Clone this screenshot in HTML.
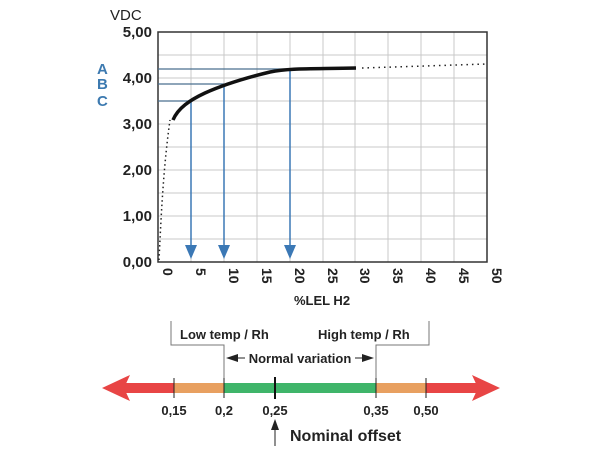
<!DOCTYPE html>
<html><head><meta charset="utf-8"><style>
html,body{margin:0;padding:0;background:#fff;}
svg{display:block;font-family:"Liberation Sans",Arial,sans-serif;}
</style></head><body>
<svg width="600" height="450" viewBox="0 0 600 450" xmlns="http://www.w3.org/2000/svg">
<!-- grid -->
<g stroke="#c8c8c8" stroke-width="1">
<line x1="158" y1="55" x2="487" y2="55"/><line x1="158" y1="78" x2="487" y2="78"/><line x1="158" y1="101" x2="487" y2="101"/>
<line x1="158" y1="124" x2="487" y2="124"/><line x1="158" y1="147" x2="487" y2="147"/><line x1="158" y1="170" x2="487" y2="170"/>
<line x1="158" y1="193" x2="487" y2="193"/><line x1="158" y1="216" x2="487" y2="216"/><line x1="158" y1="239" x2="487" y2="239"/>
<line x1="191" y1="32" x2="191" y2="262"/><line x1="224" y1="32" x2="224" y2="262"/><line x1="257" y1="32" x2="257" y2="262"/>
<line x1="290" y1="32" x2="290" y2="262"/><line x1="323" y1="32" x2="323" y2="262"/><line x1="355" y1="32" x2="355" y2="262"/>
<line x1="388" y1="32" x2="388" y2="262"/><line x1="421" y1="32" x2="421" y2="262"/><line x1="454" y1="32" x2="454" y2="262"/>
</g>
<rect x="158" y="32" width="329" height="230" fill="none" stroke="#333" stroke-width="1.5"/>
<!-- A B C lines -->
<g stroke="#4a6f8f" stroke-width="1.2">
<line x1="158" y1="69" x2="356" y2="69"/>
<line x1="158" y1="84" x2="224" y2="84"/>
<line x1="158" y1="101" x2="191" y2="101"/>
</g>
<g stroke="#3b78b5" stroke-width="1.5">
<line x1="191" y1="101" x2="191" y2="250"/>
<line x1="224" y1="84" x2="224" y2="250"/>
<line x1="290" y1="69" x2="290" y2="250"/>
</g>
<g fill="#3b78b5">
<polygon points="185,245 197,245 191,259"/>
<polygon points="218,245 230,245 224,259"/>
<polygon points="284,245 296,245 290,259"/>
</g>
<!-- curve -->
<path d="M159,260 C161,220 163,170 170,120" fill="none" stroke="#222" stroke-width="1.5" stroke-dasharray="1.5,3"/>
<path d="M173,120 C178,108 190,100 205,93 C225,84 245,78 270,72 C290,68 310,69 356,68" fill="none" stroke="#111" stroke-width="3.5"/>
<path d="M362,68 L487,64" fill="none" stroke="#222" stroke-width="1.5" stroke-dasharray="1.5,4"/>
<!-- y labels -->
<g font-size="15" font-weight="bold" fill="#222" text-anchor="end">
<text x="152" y="37">5,00</text><text x="152" y="83">4,00</text><text x="152" y="129">3,00</text>
<text x="152" y="175">2,00</text><text x="152" y="221">1,00</text><text x="152" y="267">0,00</text>
</g>
<text x="110" y="20" font-size="15" fill="#222">VDC</text>
<g font-size="15" font-weight="bold" fill="#3d7ab0">
<text x="97" y="74">A</text><text x="97" y="89">B</text><text x="97" y="106">C</text>
</g>
<!-- x labels -->
<g font-size="14" font-weight="bold" fill="#222">
<text transform="translate(163,268) rotate(90)">0</text>
<text transform="translate(196,268) rotate(90)">5</text>
<text transform="translate(229,268) rotate(90)">10</text>
<text transform="translate(262,268) rotate(90)">15</text>
<text transform="translate(295,268) rotate(90)">20</text>
<text transform="translate(328,268) rotate(90)">25</text>
<text transform="translate(360,268) rotate(90)">30</text>
<text transform="translate(393,268) rotate(90)">35</text>
<text transform="translate(426,268) rotate(90)">40</text>
<text transform="translate(459,268) rotate(90)">45</text>
<text transform="translate(492,268) rotate(90)">50</text>
</g>
<text x="322" y="305" font-size="13" font-weight="bold" fill="#222" text-anchor="middle">%LEL H2</text>
<!-- brackets -->
<g stroke="#777" stroke-width="1" fill="none">
<polyline points="171,321 171,345 224,345 224,392"/>
<polyline points="429,321 429,345 376,345 376,392"/>
</g>
<text x="180" y="339" font-size="13" font-weight="bold" fill="#222">Low temp / Rh</text>
<text x="318" y="339" font-size="13" font-weight="bold" fill="#222">High temp / Rh</text>
<text x="300" y="363" font-size="13" font-weight="bold" fill="#222" text-anchor="middle">Normal variation</text>
<g fill="#222"><polygon points="226,358 238,354 238,362"/><polygon points="374,358 362,354 362,362"/></g>
<line x1="238" y1="358" x2="245" y2="358" stroke="#222"/><line x1="355" y1="358" x2="362" y2="358" stroke="#222"/>
<!-- bar -->
<rect x="118" y="383" width="56" height="10" fill="#e84545"/>
<rect x="174" y="383" width="50" height="10" fill="#e8a060"/>
<rect x="224" y="383" width="152" height="10" fill="#3fb56a"/>
<rect x="376" y="383" width="50" height="10" fill="#e8a060"/>
<rect x="426" y="383" width="56" height="10" fill="#e84545"/>
<polygon points="102,388 130,375 124,388 130,401" fill="#e84545"/>
<polygon points="500,388 472,375 478,388 472,401" fill="#e84545"/>
<g stroke="#222" stroke-width="1">
<line x1="174" y1="378" x2="174" y2="398"/><line x1="224" y1="378" x2="224" y2="398"/>
<line x1="376" y1="378" x2="376" y2="398"/><line x1="426" y1="378" x2="426" y2="398"/>
</g>
<line x1="275" y1="377" x2="275" y2="399" stroke="#111" stroke-width="2"/>
<g font-size="13" font-weight="bold" fill="#222" text-anchor="middle">
<text x="174" y="415">0,15</text><text x="224" y="415">0,2</text><text x="275" y="415">0,25</text>
<text x="376" y="415">0,35</text><text x="426" y="415">0,50</text>
</g>
<line x1="275" y1="428" x2="275" y2="446" stroke="#222" stroke-width="1"/>
<polygon points="275,419 271,430 279,430" fill="#222"/>
<text x="290" y="441" font-size="16" font-weight="bold" fill="#222">Nominal offset</text>
</svg>
</body></html>
